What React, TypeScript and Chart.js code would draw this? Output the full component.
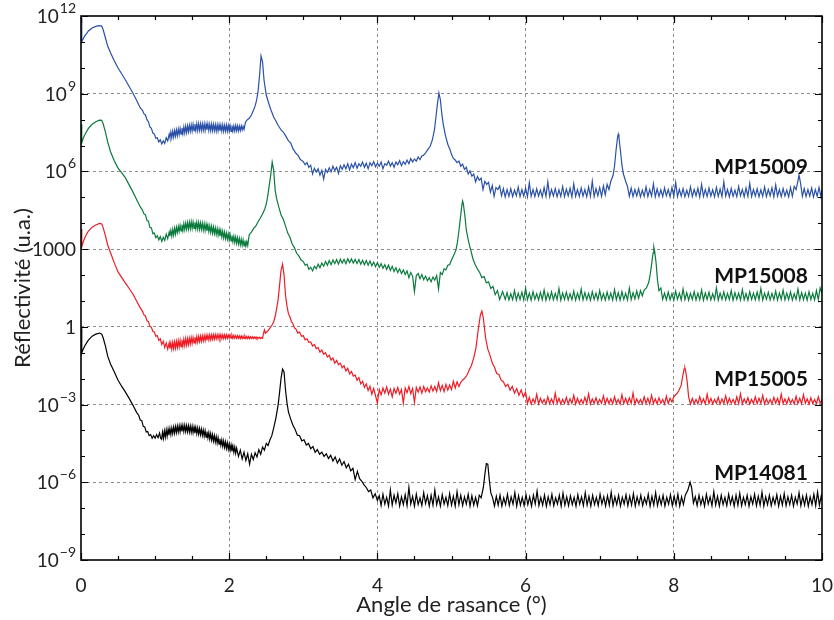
import React, { useEffect, useRef } from "react";
import { Chart, registerables } from "chart.js";

Chart.register(...registerables);

const FONT = "Lato, 'DejaVu Sans', sans-serif";

// Series names and colours
const seriesNames = ["MP15009", "MP15008", "MP15005", "MP14081"];
const seriesColors = ["#2a51a7", "#0a7a3d", "#ee1c25", "#000000"];

// Values: [angle (deg), log10(reflectivity)]
const mp15009: number[][] = [
  [0, 11.92], [0.01, 11.0], [0.03, 11.12], [0.05, 11.23], [0.08, 11.34], [0.1, 11.42], [0.15, 11.54], [0.2, 11.6], [0.25, 11.63], [0.28, 11.61], [0.3, 11.46], [0.33, 11.15], [0.36, 10.84], [0.4, 10.57], [0.45, 10.26], [0.5, 9.99], [0.55, 9.76], [0.6, 9.53], [0.65, 9.28], [0.7, 9.03], [0.75, 8.75], [0.8, 8.45],
  [0.83, 8.36], [0.85, 8.22], [0.87, 8.18], [0.89, 8.0], [0.91, 7.92], [0.93, 7.72], [0.95, 7.66], [0.97, 7.48], [0.99, 7.44], [1.01, 7.28], [1.03, 7.3], [1.05, 7.14], [1.07, 7.22], [1.09, 7.06], [1.11, 7.18], [1.13, 7.08], [1.15, 7.3], [1.17, 7.18], [1.19, 7.44], [1.2, 7.3],
  [1.2125, 7.52], [1.225, 7.3], [1.2375, 7.55], [1.25, 7.33], [1.2625, 7.58], [1.275, 7.36], [1.2875, 7.6], [1.3, 7.38], [1.3125, 7.63], [1.325, 7.42], [1.3375, 7.66], [1.35, 7.44], [1.3625, 7.68], [1.375, 7.46], [1.3875, 7.72], [1.4, 7.48], [1.4125, 7.74], [1.425, 7.5], [1.4375, 7.76], [1.45, 7.53], [1.4625, 7.78], [1.475, 7.55], [1.4875, 7.8], [1.5, 7.56], [1.5125, 7.82], [1.525, 7.57], [1.5375, 7.83], [1.55, 7.58], [1.5625, 7.84], [1.575, 7.58], [1.5875, 7.84], [1.6, 7.59], [1.6125, 7.84], [1.625, 7.58], [1.6375, 7.83], [1.65, 7.59], [1.6625, 7.84], [1.675, 7.58], [1.6875, 7.83], [1.7, 7.6], [1.7125, 7.84], [1.725, 7.58], [1.7375, 7.82], [1.75, 7.58], [1.7625, 7.83], [1.775, 7.57], [1.7875, 7.82], [1.8, 7.58], [1.8125, 7.81], [1.825, 7.56], [1.8375, 7.8], [1.85, 7.57], [1.8625, 7.8], [1.875, 7.56], [1.8875, 7.79], [1.9, 7.56], [1.9125, 7.8], [1.925, 7.55], [1.9375, 7.78], [1.95, 7.56], [1.9625, 7.79], [1.975, 7.55], [1.9875, 7.78], [2.0, 7.56], [2.0125, 7.77], [2.025, 7.55], [2.0375, 7.78], [2.05, 7.56], [2.0625, 7.76], [2.075, 7.56], [2.0875, 7.77], [2.1, 7.57], [2.1125, 7.76], [2.125, 7.57], [2.1375, 7.75], [2.15, 7.58], [2.1625, 7.76], [2.175, 7.6], [2.1875, 7.74], [2.2, 7.62],
  [2.22, 7.9], [2.24, 7.98], [2.27, 8.05], [2.3, 8.18], [2.33, 8.38], [2.35, 8.53], [2.37, 8.75], [2.39, 9.1], [2.41, 9.72], [2.43, 10.46], [2.45, 10.23], [2.47, 9.53], [2.5, 8.95], [2.53, 8.66], [2.56, 8.4], [2.6, 8.1], [2.63, 7.95], [2.66, 7.78], [2.7, 7.6], [2.73, 7.52], [2.76, 7.38], [2.8, 7.18], [2.83, 7.1], [2.86, 6.88], [2.9, 6.7], [2.93, 6.62], [2.96, 6.46],
  [3.0, 6.38], [3.025, 6.26], [3.05, 6.34], [3.075, 6.16], [3.1, 6.24], [3.125, 5.9], [3.15, 6.12], [3.175, 5.98], [3.2, 6.1], [3.225, 5.86], [3.25, 6.04], [3.275, 5.7], [3.3, 6.08], [3.325, 5.96], [3.35, 6.14], [3.375, 5.98], [3.4, 6.2], [3.425, 6.04], [3.45, 6.16], [3.475, 5.92], [3.5, 6.22], [3.525, 6.08], [3.55, 6.26], [3.575, 6.1], [3.6, 6.3], [3.625, 6.06], [3.65, 6.28], [3.675, 6.14], [3.7, 6.34], [3.725, 6.12], [3.75, 6.3], [3.775, 6.2], [3.8, 6.36], [3.825, 6.16], [3.85, 6.32], [3.875, 6.1], [3.9, 6.34], [3.925, 6.22], [3.95, 6.38], [3.975, 6.18], [4.0, 6.32], [4.025, 6.2], [4.05, 6.36], [4.075, 6.1], [4.1, 6.3], [4.125, 6.24], [4.15, 6.4], [4.175, 6.2], [4.2, 6.34], [4.225, 6.16], [4.25, 6.36], [4.275, 6.26], [4.3, 6.42], [4.325, 6.22], [4.35, 6.38], [4.375, 6.28], [4.4, 6.44], [4.425, 6.3], [4.45, 6.5], [4.475, 6.36], [4.5, 6.48], [4.525, 6.4], [4.55, 6.56], [4.575, 6.46], [4.6, 6.6],
  [4.62, 6.62], [4.65, 6.72], [4.68, 6.84], [4.71, 6.96], [4.74, 7.2], [4.77, 7.6], [4.79, 8.1], [4.81, 8.6], [4.83, 9.03], [4.85, 8.76], [4.87, 8.2], [4.89, 7.8], [4.92, 7.36], [4.95, 7.05], [4.98, 6.84],
  [5.0, 6.66], [5.025, 6.5], [5.05, 6.44], [5.075, 6.34], [5.1, 6.4], [5.125, 6.2], [5.15, 6.28], [5.175, 6.08], [5.2, 6.16], [5.225, 5.9], [5.25, 6.02], [5.275, 5.82], [5.3, 5.9], [5.325, 5.6], [5.35, 5.8], [5.375, 5.66], [5.4, 5.74], [5.425, 5.3], [5.45, 5.62], [5.475, 5.5], [5.5, 5.58], [5.525, 5.2], [5.55, 5.46], [5.575, 5.04], [5.6, 5.38], [5.625, 5.3], [5.65, 5.44], [5.675, 5.06], [5.7, 5.34], [5.725, 5.02], [5.75, 5.3],
  [5.775, 5.04], [5.8, 5.34], [5.825, 5.03], [5.85, 5.28], [5.875, 5.06], [5.9, 5.4], [5.925, 5.03], [5.95, 5.3], [5.975, 5.05], [6.0, 5.36], [6.025, 5.02], [6.05, 5.56], [6.075, 5.04], [6.1, 5.3], [6.125, 5.03], [6.15, 5.33], [6.175, 5.05], [6.2, 5.28], [6.225, 5.02], [6.25, 5.38], [6.275, 5.04], [6.3, 5.6], [6.325, 5.03], [6.35, 5.3], [6.375, 5.05], [6.4, 5.34], [6.425, 5.02], [6.45, 5.29], [6.475, 5.04], [6.5, 5.42], [6.525, 5.03], [6.55, 5.32], [6.575, 5.06], [6.6, 5.35], [6.625, 5.02], [6.65, 5.52], [6.675, 5.04], [6.7, 5.3], [6.725, 5.03], [6.75, 5.36], [6.775, 5.05], [6.8, 5.3], [6.825, 5.02], [6.85, 5.4], [6.875, 5.04], [6.9, 5.62], [6.925, 5.03], [6.95, 5.34], [6.975, 5.06], [7.0, 5.38], [7.025, 5.04], [7.05, 5.44], [7.075, 5.1], [7.1, 5.5], [7.125, 5.3], [7.15, 5.62],
  [7.18, 5.84], [7.2, 6.2], [7.22, 6.8], [7.24, 7.3], [7.25, 7.44], [7.26, 7.3], [7.28, 6.8], [7.3, 6.25], [7.32, 5.9], [7.35, 5.62], [7.375, 5.42],
  [7.4, 5.04], [7.425, 5.36], [7.45, 5.03], [7.475, 5.3], [7.5, 5.05], [7.525, 5.34], [7.55, 5.02], [7.575, 5.28], [7.6, 5.04], [7.625, 5.4], [7.65, 5.03], [7.675, 5.3], [7.7, 5.05], [7.725, 5.52], [7.75, 5.02], [7.775, 5.33], [7.8, 5.04], [7.825, 5.29], [7.85, 5.03], [7.875, 5.36], [7.9, 5.06], [7.925, 5.3], [7.95, 5.02], [7.975, 5.38], [8.0, 5.04], [8.025, 5.58], [8.05, 5.03], [8.075, 5.31], [8.1, 5.05], [8.125, 5.34], [8.15, 5.02], [8.175, 5.28], [8.2, 5.04], [8.225, 5.4], [8.25, 5.03], [8.275, 5.3], [8.3, 5.06], [8.325, 5.35], [8.35, 5.02], [8.375, 5.5], [8.4, 5.04], [8.425, 5.3], [8.45, 5.03], [8.475, 5.36], [8.5, 5.05], [8.525, 5.29], [8.55, 5.02], [8.575, 5.38], [8.6, 5.04], [8.625, 5.32], [8.65, 5.03], [8.675, 5.6], [8.7, 5.05], [8.725, 5.3], [8.75, 5.02], [8.775, 5.34], [8.8, 5.04], [8.825, 5.28], [8.85, 5.03], [8.875, 5.42], [8.9, 5.06], [8.925, 5.3], [8.95, 5.02], [8.975, 5.36], [9.0, 5.04], [9.025, 5.54], [9.05, 5.03], [9.075, 5.3], [9.1, 5.05], [9.125, 5.33], [9.15, 5.02], [9.175, 5.29], [9.2, 5.04], [9.225, 5.4], [9.25, 5.03], [9.275, 5.3], [9.3, 5.06], [9.325, 5.37], [9.35, 5.02], [9.375, 5.48], [9.4, 5.04], [9.425, 5.3], [9.45, 5.03], [9.475, 5.34], [9.5, 5.05], [9.525, 5.28], [9.55, 5.02], [9.575, 5.38], [9.6, 5.04], [9.625, 5.42], [9.65, 5.3], [9.67, 5.56], [9.69, 5.86], [9.71, 5.56], [9.735, 5.04], [9.76, 5.34], [9.785, 5.03], [9.81, 5.3], [9.835, 5.05], [9.86, 5.36], [9.885, 5.02], [9.91, 5.3], [9.935, 5.04], [9.96, 5.38], [9.985, 5.03], [10, 5.3],
];

const mp15008: number[][] = [
  [0, 7.82], [0.01, 7.1], [0.03, 7.28], [0.05, 7.41], [0.08, 7.56], [0.1, 7.66], [0.15, 7.82], [0.2, 7.92], [0.25, 7.98], [0.28, 7.97], [0.3, 7.83], [0.33, 7.52], [0.36, 7.14], [0.4, 6.75], [0.45, 6.4], [0.5, 6.13], [0.55, 5.94], [0.6, 5.75], [0.65, 5.48], [0.7, 5.21], [0.75, 4.92], [0.8, 4.63],
  [0.83, 4.5], [0.85, 4.36], [0.87, 4.32], [0.89, 4.1], [0.91, 4.08], [0.93, 3.84], [0.95, 3.82], [0.97, 3.6], [0.99, 3.62], [1.01, 3.44], [1.03, 3.52], [1.05, 3.36], [1.07, 3.48], [1.09, 3.3], [1.11, 3.46], [1.13, 3.34], [1.15, 3.58], [1.17, 3.4], [1.19, 3.66], [1.2, 3.5],
  [1.2125, 3.72], [1.225, 3.5], [1.2375, 3.76], [1.25, 3.54], [1.2625, 3.8], [1.275, 3.58], [1.2875, 3.84], [1.3, 3.64], [1.3125, 3.88], [1.325, 3.68], [1.3375, 3.92], [1.35, 3.7], [1.3625, 3.95], [1.375, 3.72], [1.3875, 3.98], [1.4, 3.75], [1.4125, 4.0], [1.425, 3.77], [1.4375, 4.02], [1.45, 3.78], [1.4625, 4.04], [1.475, 3.79], [1.4875, 4.05], [1.5, 3.8], [1.5125, 4.05], [1.525, 3.8], [1.5375, 4.04], [1.55, 3.79], [1.5625, 4.04], [1.575, 3.78], [1.5875, 4.03], [1.6, 3.77], [1.6125, 4.01], [1.625, 3.76], [1.6375, 4.0], [1.65, 3.74], [1.6625, 3.98], [1.675, 3.72], [1.6875, 3.96], [1.7, 3.7], [1.7125, 3.93], [1.725, 3.68], [1.7375, 3.9], [1.75, 3.65], [1.7625, 3.88], [1.775, 3.62], [1.7875, 3.85], [1.8, 3.6], [1.8125, 3.82], [1.825, 3.57], [1.8375, 3.79], [1.85, 3.54], [1.8625, 3.76], [1.875, 3.5], [1.8875, 3.72], [1.9, 3.47], [1.9125, 3.69], [1.925, 3.44], [1.9375, 3.66], [1.95, 3.41], [1.9625, 3.62], [1.975, 3.38], [1.9875, 3.59], [2.0, 3.35], [2.0125, 3.56], [2.025, 3.32], [2.0375, 3.53], [2.05, 3.29], [2.0625, 3.5], [2.075, 3.26], [2.0875, 3.47], [2.1, 3.23], [2.1125, 3.44], [2.125, 3.2], [2.1375, 3.41], [2.15, 3.17], [2.1625, 3.38], [2.175, 3.15], [2.1875, 3.36], [2.2, 3.13], [2.2125, 3.33], [2.225, 3.12], [2.2375, 3.3], [2.25, 3.14],
  [2.27, 3.56], [2.3, 3.66], [2.33, 3.8], [2.36, 3.9], [2.39, 4.06], [2.42, 4.2], [2.45, 4.36], [2.48, 4.55], [2.5, 4.74], [2.52, 5.05], [2.54, 5.45], [2.56, 5.86], [2.58, 6.36], [2.6, 6.05], [2.62, 5.28], [2.64, 4.95], [2.67, 4.62], [2.7, 4.32], [2.73, 4.15], [2.76, 3.9], [2.79, 3.62], [2.82, 3.46], [2.85, 3.2], [2.88, 3.06], [2.91, 2.84], [2.94, 2.74], [2.97, 2.58],
  [3.0, 2.52], [3.025, 2.38], [3.05, 2.42], [3.075, 2.22], [3.1, 2.3], [3.125, 2.16], [3.15, 2.34], [3.175, 2.24], [3.2, 2.42], [3.225, 2.28], [3.25, 2.46], [3.275, 2.34], [3.3, 2.52], [3.325, 2.38], [3.35, 2.56], [3.375, 2.4], [3.4, 2.58], [3.425, 2.44], [3.45, 2.6], [3.475, 2.42], [3.5, 2.62], [3.525, 2.46], [3.55, 2.6], [3.575, 2.44], [3.6, 2.63], [3.625, 2.48], [3.65, 2.62], [3.675, 2.46], [3.7, 2.6], [3.725, 2.44], [3.75, 2.6], [3.775, 2.42], [3.8, 2.57], [3.825, 2.4], [3.85, 2.56], [3.875, 2.38], [3.9, 2.54], [3.925, 2.36], [3.95, 2.5], [3.975, 2.32], [4.0, 2.48], [4.025, 2.3], [4.05, 2.44], [4.075, 2.26], [4.1, 2.4], [4.125, 2.22], [4.15, 2.38], [4.175, 2.18], [4.2, 2.34], [4.225, 2.14], [4.25, 2.28], [4.275, 2.1], [4.3, 2.24], [4.325, 2.06], [4.35, 2.2], [4.375, 2.02], [4.4, 2.16], [4.425, 1.9], [4.45, 2.1], [4.475, 1.96], [4.5, 1.36], [4.525, 1.98], [4.55, 2.06], [4.575, 1.86], [4.6, 2.02], [4.625, 1.82], [4.65, 1.96], [4.675, 1.78], [4.7, 1.9], [4.725, 1.74], [4.75, 1.92], [4.775, 1.8], [4.8, 1.98], [4.825, 1.46], [4.85, 2.1], [4.875, 2.02], [4.9, 2.24], [4.925, 2.2], [4.95, 2.38], [4.975, 2.4], [5.0, 2.58],
  [5.03, 2.76], [5.06, 2.96], [5.08, 3.27], [5.1, 3.7], [5.12, 4.2], [5.14, 4.7], [5.15, 4.86], [5.16, 4.75], [5.18, 4.3], [5.2, 3.74], [5.23, 3.3], [5.26, 2.96], [5.29, 2.62], [5.32, 2.4], [5.35, 2.24], [5.38, 2.1], [5.41, 1.9], [5.44, 1.94], [5.47, 1.7], [5.5, 1.74], [5.53, 1.48], [5.56, 1.56], [5.59, 1.24], [5.62, 1.4], [5.65, 1.06], [5.69, 1.36],
  [5.725, 1.06], [5.75, 1.32], [5.775, 1.04], [5.8, 1.28], [5.825, 1.05], [5.85, 1.4], [5.875, 1.03], [5.9, 1.3], [5.925, 1.06], [5.95, 1.34], [5.975, 1.04], [6.0, 1.5], [6.025, 1.05], [6.05, 1.3], [6.075, 1.03], [6.1, 1.36], [6.125, 1.06], [6.15, 1.28], [6.175, 1.04], [6.2, 1.33], [6.225, 1.05], [6.25, 1.42], [6.275, 1.03], [6.3, 1.3], [6.325, 1.06], [6.35, 1.35], [6.375, 1.04], [6.4, 1.29], [6.425, 1.05], [6.45, 1.48], [6.475, 1.03], [6.5, 1.31], [6.525, 1.06], [6.55, 1.34], [6.575, 1.04], [6.6, 1.28], [6.625, 1.05], [6.65, 1.38], [6.675, 1.03], [6.7, 1.3], [6.725, 1.06], [6.75, 1.46], [6.775, 1.04], [6.8, 1.32], [6.825, 1.05], [6.85, 1.29], [6.875, 1.03], [6.9, 1.36], [6.925, 1.06], [6.95, 1.3], [6.975, 1.04], [7.0, 1.4], [7.025, 1.05], [7.05, 1.28], [7.075, 1.03], [7.1, 1.34], [7.125, 1.06], [7.15, 1.3], [7.175, 1.04], [7.2, 1.44], [7.225, 1.05], [7.25, 1.32], [7.275, 1.03], [7.3, 1.36], [7.325, 1.06], [7.35, 1.29], [7.375, 1.04], [7.4, 1.5], [7.425, 1.05], [7.45, 1.32], [7.475, 1.08], [7.5, 1.38], [7.525, 1.1], [7.55, 1.4], [7.575, 1.2], [7.6, 1.42],
  [7.63, 1.5], [7.66, 1.7], [7.68, 2.0], [7.7, 2.4], [7.72, 2.85], [7.73, 3.08], [7.74, 2.95], [7.76, 2.5], [7.78, 1.8], [7.8, 1.4], [7.825, 1.5],
  [7.85, 1.06], [7.875, 1.3], [7.9, 1.04], [7.925, 1.34], [7.95, 1.05], [7.975, 1.28], [8.0, 1.03], [8.025, 1.38], [8.05, 1.06], [8.075, 1.3], [8.1, 1.04], [8.125, 1.46], [8.15, 1.05], [8.175, 1.32], [8.2, 1.03], [8.225, 1.29], [8.25, 1.06], [8.275, 1.36], [8.3, 1.04], [8.325, 1.3], [8.35, 1.05], [8.375, 1.42], [8.4, 1.03], [8.425, 1.31], [8.45, 1.06], [8.475, 1.34], [8.5, 1.04], [8.525, 1.28], [8.55, 1.05], [8.575, 1.5], [8.6, 1.03], [8.625, 1.3], [8.65, 1.06], [8.675, 1.35], [8.7, 1.04], [8.725, 1.29], [8.75, 1.05], [8.775, 1.4], [8.8, 1.03], [8.825, 1.32], [8.85, 1.06], [8.875, 1.3], [8.9, 1.04], [8.925, 1.44], [8.95, 1.05], [8.975, 1.28], [9.0, 1.03], [9.025, 1.36], [9.05, 1.06], [9.075, 1.3], [9.1, 1.04], [9.125, 1.34], [9.15, 1.05], [9.175, 1.48], [9.2, 1.03], [9.225, 1.3], [9.25, 1.06], [9.275, 1.33], [9.3, 1.04], [9.325, 1.29], [9.35, 1.05], [9.375, 1.38], [9.4, 1.03], [9.425, 1.31], [9.45, 1.06], [9.475, 1.42], [9.5, 1.04], [9.525, 1.3], [9.55, 1.05], [9.575, 1.35], [9.6, 1.03], [9.625, 1.28], [9.65, 1.06], [9.675, 1.46], [9.7, 1.04], [9.725, 1.32], [9.75, 1.05], [9.775, 1.3], [9.8, 1.03], [9.825, 1.36], [9.85, 1.06], [9.875, 1.29], [9.9, 1.04], [9.925, 1.4], [9.95, 1.05], [9.975, 1.5], [10, 1.3],
];

const mp15005: number[][] = [
  [0, 3.78], [0.01, 3.08], [0.03, 3.28], [0.05, 3.43], [0.08, 3.6], [0.1, 3.7], [0.15, 3.85], [0.2, 3.93], [0.25, 3.99], [0.28, 3.97], [0.3, 3.82], [0.33, 3.51], [0.36, 3.16], [0.4, 2.85], [0.45, 2.46], [0.5, 2.12], [0.55, 1.9], [0.6, 1.69], [0.65, 1.48], [0.7, 1.27], [0.75, 1.0], [0.8, 0.73],
  [0.83, 0.6], [0.85, 0.46], [0.87, 0.42], [0.89, 0.24], [0.91, 0.2], [0.93, 0.02], [0.95, -0.02], [0.97, -0.18], [0.99, -0.2], [1.01, -0.36], [1.03, -0.34], [1.05, -0.52], [1.07, -0.46], [1.09, -0.68], [1.11, -0.56], [1.13, -0.8], [1.15, -0.62], [1.17, -0.86], [1.19, -0.62], [1.2, -0.84],
  [1.2125, -0.62], [1.225, -0.86], [1.2375, -0.6], [1.25, -0.84], [1.2625, -0.58], [1.275, -0.82], [1.2875, -0.56], [1.3, -0.8], [1.3125, -0.54], [1.325, -0.78], [1.3375, -0.52], [1.35, -0.76], [1.3625, -0.5], [1.375, -0.74], [1.3875, -0.48], [1.4, -0.72], [1.4125, -0.46], [1.425, -0.7], [1.4375, -0.45], [1.45, -0.68], [1.4625, -0.44], [1.475, -0.66], [1.4875, -0.42], [1.5, -0.64], [1.5125, -0.41], [1.525, -0.62], [1.5375, -0.4], [1.55, -0.6], [1.5625, -0.38], [1.575, -0.59], [1.5875, -0.37], [1.6, -0.57], [1.6125, -0.36], [1.625, -0.56], [1.6375, -0.35], [1.65, -0.54], [1.6625, -0.34], [1.675, -0.53], [1.6875, -0.33], [1.7, -0.52], [1.7125, -0.32], [1.725, -0.5], [1.7375, -0.31], [1.75, -0.49], [1.7625, -0.31], [1.775, -0.48], [1.7875, -0.3], [1.8, -0.47], [1.8125, -0.3], [1.825, -0.46], [1.8375, -0.3], [1.85, -0.46], [1.8625, -0.3], [1.875, -0.45], [1.8875, -0.3], [1.9, -0.45], [1.9125, -0.31], [1.925, -0.45], [1.9375, -0.31], [1.95, -0.45], [1.9625, -0.31], [1.975, -0.44], [1.9875, -0.32], [2.0, -0.44], [2.0125, -0.32], [2.025, -0.44], [2.0375, -0.33], [2.05, -0.44], [2.0625, -0.33], [2.075, -0.44], [2.0875, -0.34], [2.1, -0.44], [2.1125, -0.34], [2.125, -0.44], [2.1375, -0.35], [2.15, -0.45], [2.1625, -0.35], [2.175, -0.45], [2.1875, -0.36], [2.2, -0.45], [2.2125, -0.36], [2.225, -0.45], [2.2375, -0.37], [2.25, -0.45], [2.2625, -0.37], [2.275, -0.45], [2.2875, -0.38], [2.3, -0.45], [2.3125, -0.38], [2.325, -0.45], [2.3375, -0.39], [2.35, -0.45], [2.3625, -0.39], [2.375, -0.45], [2.3875, -0.4], [2.4, -0.45], [2.4125, -0.4], [2.425, -0.45], [2.4375, -0.41], [2.45, -0.44],
  [2.46, -0.3], [2.475, -0.12], [2.49, -0.24], [2.52, -0.16], [2.55, -0.05], [2.58, 0.08], [2.6, 0.19], [2.62, 0.4], [2.64, 0.7], [2.66, 1.04], [2.68, 1.62], [2.7, 2.19], [2.72, 2.42], [2.74, 2.0], [2.76, 1.23], [2.78, 0.8], [2.8, 0.5], [2.82, 0.38], [2.84, 0.2], [2.86, 0.12], [2.88, -0.04],
  [2.9, -0.08], [2.925, -0.24], [2.95, -0.2], [2.975, -0.36], [3.0, -0.34], [3.025, -0.5], [3.05, -0.46], [3.075, -0.6], [3.1, -0.58], [3.125, -0.74], [3.15, -0.68], [3.175, -0.84], [3.2, -0.8], [3.225, -0.98], [3.25, -0.9], [3.275, -1.06], [3.3, -1.0], [3.325, -1.16], [3.35, -1.1], [3.375, -1.28], [3.4, -1.2], [3.425, -1.4], [3.45, -1.3], [3.475, -1.46], [3.5, -1.4], [3.525, -1.58], [3.55, -1.5], [3.575, -1.7], [3.6, -1.6], [3.625, -1.82], [3.65, -1.72], [3.675, -1.9], [3.7, -1.86], [3.725, -2.06], [3.75, -1.96], [3.775, -2.2], [3.8, -2.1], [3.825, -2.34], [3.85, -2.2], [3.875, -2.46], [3.9, -2.3], [3.925, -2.6], [3.95, -2.38], [3.975, -2.66], [4.0, -2.94], [4.025, -2.42], [4.05, -2.62], [4.075, -2.36], [4.1, -2.56], [4.125, -2.32], [4.15, -2.6], [4.175, -2.4], [4.2, -2.7], [4.225, -2.38], [4.25, -2.56], [4.275, -2.34], [4.3, -2.6], [4.325, -2.42], [4.35, -2.94], [4.375, -2.36], [4.4, -2.54], [4.425, -2.3], [4.45, -2.58], [4.475, -2.38], [4.5, -2.92], [4.525, -2.34], [4.55, -2.52], [4.575, -2.32], [4.6, -2.56], [4.625, -2.3], [4.65, -2.5], [4.675, -2.36], [4.7, -2.52], [4.725, -2.28], [4.75, -2.48], [4.775, -2.3], [4.8, -2.5], [4.825, -2.16], [4.85, -2.46], [4.875, -2.26], [4.9, -2.5], [4.925, -2.22], [4.95, -2.44], [4.975, -2.24], [5.0, -2.42], [5.025, -2.1], [5.05, -2.36], [5.075, -2.12], [5.1, -2.3], [5.125, -2.14],
  [5.15, -2.06], [5.18, -1.98], [5.21, -1.86], [5.24, -1.66], [5.27, -1.48], [5.3, -1.2], [5.33, -0.82], [5.36, -0.12], [5.39, 0.46], [5.41, 0.61], [5.43, 0.34], [5.46, -0.43], [5.49, -0.86], [5.52, -1.1], [5.55, -1.4], [5.58, -1.56], [5.61, -1.8], [5.64, -1.84], [5.67, -2.06], [5.7, -2.12], [5.73, -2.3], [5.76, -2.22], [5.79, -2.44], [5.82, -2.3], [5.85, -2.56], [5.88, -2.38], [5.91, -2.64], [5.94, -2.44], [5.97, -2.7], [6.0, -2.52],
  [6.025, -2.96], [6.05, -2.72], [6.075, -2.98], [6.1, -2.78], [6.125, -2.95], [6.15, -2.6], [6.175, -2.97], [6.2, -2.76], [6.225, -2.94], [6.25, -2.8], [6.275, -2.98], [6.3, -2.7], [6.325, -2.96], [6.35, -2.78], [6.375, -2.97], [6.4, -2.56], [6.425, -2.95], [6.45, -2.76], [6.475, -2.98], [6.5, -2.8], [6.525, -2.96], [6.55, -2.72], [6.575, -2.97], [6.6, -2.78], [6.625, -2.95], [6.65, -2.64], [6.675, -2.98], [6.7, -2.76], [6.725, -2.96], [6.75, -2.8], [6.775, -2.97], [6.8, -2.72], [6.825, -2.95], [6.85, -2.58], [6.875, -2.98], [6.9, -2.78], [6.925, -2.96], [6.95, -2.74], [6.975, -2.97], [7.0, -2.8], [7.025, -2.95], [7.05, -2.66], [7.075, -2.98], [7.1, -2.76], [7.125, -2.96], [7.15, -2.78], [7.175, -2.97], [7.2, -2.7], [7.225, -2.95], [7.25, -2.8], [7.275, -2.98], [7.3, -2.62], [7.325, -2.96], [7.35, -2.76], [7.375, -2.97], [7.4, -2.74], [7.425, -2.95], [7.45, -2.55], [7.475, -2.98], [7.5, -2.78], [7.525, -2.96], [7.55, -2.8], [7.575, -2.97], [7.6, -2.7], [7.625, -2.95], [7.65, -2.76], [7.675, -2.98], [7.7, -2.64], [7.725, -2.96], [7.75, -2.78], [7.775, -2.97], [7.8, -2.74], [7.825, -2.95], [7.85, -2.8], [7.875, -2.98], [7.9, -2.68], [7.925, -2.96], [7.95, -2.76], [7.975, -2.9], [8.0, -2.7], [8.025, -2.62],
  [8.05, -2.55], [8.07, -2.45], [8.1, -2.25], [8.12, -1.9], [8.14, -1.62], [8.15, -1.59], [8.16, -1.7], [8.18, -2.1], [8.2, -2.7],
  [8.225, -2.98], [8.25, -2.76], [8.275, -2.96], [8.3, -2.8], [8.325, -2.97], [8.35, -2.7], [8.375, -2.95], [8.4, -2.78], [8.425, -2.98], [8.45, -2.6], [8.475, -2.96], [8.5, -2.76], [8.525, -2.97], [8.55, -2.8], [8.575, -2.95], [8.6, -2.72], [8.625, -2.98], [8.65, -2.78], [8.675, -2.96], [8.7, -2.66], [8.725, -2.97], [8.75, -2.76], [8.775, -2.95], [8.8, -2.8], [8.825, -2.98], [8.85, -2.7], [8.875, -2.96], [8.9, -2.58], [8.925, -2.97], [8.95, -2.78], [8.975, -2.95], [9.0, -2.74], [9.025, -2.98], [9.05, -2.8], [9.075, -2.96], [9.1, -2.7], [9.125, -2.97], [9.15, -2.76], [9.175, -2.95], [9.2, -2.64], [9.225, -2.98], [9.25, -2.78], [9.275, -2.96], [9.3, -2.8], [9.325, -2.97], [9.35, -2.72], [9.375, -2.95], [9.4, -2.76], [9.425, -2.98], [9.45, -2.6], [9.475, -2.96], [9.5, -2.78], [9.525, -2.97], [9.55, -2.74], [9.575, -2.95], [9.6, -2.8], [9.625, -2.98], [9.65, -2.68], [9.675, -2.96], [9.7, -2.76], [9.725, -2.97], [9.75, -2.62], [9.775, -2.95], [9.8, -2.78], [9.825, -2.98], [9.85, -2.74], [9.875, -2.96], [9.9, -2.8], [9.925, -2.97], [9.95, -2.7], [9.975, -2.95], [10, -2.8],
];

const mp14081: number[][] = [
  [0, -0.05], [0.01, -1.01], [0.03, -0.86], [0.05, -0.74], [0.08, -0.6], [0.1, -0.51], [0.15, -0.36], [0.2, -0.28], [0.25, -0.24], [0.28, -0.28], [0.3, -0.43], [0.33, -0.74], [0.36, -1.13], [0.4, -1.44], [0.45, -1.74], [0.5, -2.06], [0.55, -2.3], [0.6, -2.52], [0.65, -2.76], [0.7, -3.02], [0.75, -3.3], [0.78, -3.42], [0.8, -3.6], [0.82, -3.62], [0.84, -3.84], [0.86, -3.86], [0.88, -4.06], [0.9, -4.04], [0.92, -4.2], [0.94, -4.16], [0.96, -4.3], [0.98, -4.2], [1.0, -4.3], [1.02, -4.16], [1.04, -4.28], [1.06, -4.1], [1.075, -4.3],
  [1.0875, -4.34], [1.1, -4.06], [1.1125, -4.3], [1.125, -4.02], [1.1375, -4.26], [1.15, -3.98], [1.1625, -4.22], [1.175, -3.95], [1.1875, -4.18], [1.2, -3.92], [1.2125, -4.15], [1.225, -3.9], [1.2375, -4.12], [1.25, -3.87], [1.2625, -4.1], [1.275, -3.85], [1.2875, -4.08], [1.3, -3.83], [1.3125, -4.06], [1.325, -3.82], [1.3375, -4.05], [1.35, -3.81], [1.3625, -4.04], [1.375, -3.8], [1.3875, -4.04], [1.4, -3.8], [1.4125, -4.04], [1.425, -3.81], [1.4375, -4.05], [1.45, -3.82], [1.4625, -4.06], [1.475, -3.83], [1.4875, -4.07], [1.5, -3.84], [1.5125, -4.08], [1.525, -3.86], [1.5375, -4.1], [1.55, -3.88], [1.5625, -4.12], [1.575, -3.9], [1.5875, -4.14], [1.6, -3.92], [1.6125, -4.16], [1.625, -3.95], [1.6375, -4.19], [1.65, -3.98], [1.6625, -4.22], [1.675, -4.01], [1.6875, -4.26], [1.7, -4.04], [1.7125, -4.29], [1.725, -4.08], [1.7375, -4.33], [1.75, -4.12], [1.7625, -4.37], [1.775, -4.16], [1.7875, -4.41], [1.8, -4.2], [1.8125, -4.45], [1.825, -4.24], [1.8375, -4.49], [1.85, -4.28], [1.8625, -4.53], [1.875, -4.32], [1.8875, -4.57], [1.9, -4.36], [1.9125, -4.61], [1.925, -4.4], [1.9375, -4.65], [1.95, -4.44], [1.9625, -4.69], [1.975, -4.48], [1.9875, -4.73], [2.0, -4.52], [2.0125, -4.77], [2.025, -4.56], [2.0375, -4.81], [2.05, -4.6], [2.0625, -4.84], [2.075, -4.64], [2.0875, -4.88], [2.1, -4.68],
  [2.125, -5.0], [2.15, -4.76], [2.175, -5.1], [2.2, -4.84], [2.225, -5.16], [2.25, -4.9], [2.275, -5.3], [2.3, -4.92], [2.325, -5.12], [2.35, -4.86], [2.375, -5.02], [2.4, -4.74], [2.425, -4.92], [2.45, -4.64], [2.475, -4.76], [2.5, -4.5], [2.525, -4.58], [2.55, -4.36], [2.575, -4.2],
  [2.6, -3.91], [2.63, -3.52], [2.66, -3.02], [2.68, -2.52], [2.7, -1.98], [2.72, -1.63], [2.74, -1.74], [2.76, -2.44], [2.78, -2.94], [2.8, -3.29], [2.83, -3.56], [2.86, -3.8], [2.89, -3.96], [2.92, -4.18], [2.95, -4.2], [2.98, -4.4], [3.01, -4.36], [3.04, -4.56], [3.07, -4.5], [3.1, -4.7], [3.13, -4.62], [3.16, -4.84], [3.19, -4.74], [3.22, -4.92], [3.25, -4.84], [3.28, -5.0], [3.31, -4.9], [3.34, -5.08], [3.37, -4.96], [3.4, -5.18], [3.43, -5.02], [3.46, -5.26], [3.49, -5.1], [3.52, -5.34], [3.55, -5.2], [3.58, -5.44], [3.61, -5.3], [3.64, -5.56], [3.67, -5.46], [3.7, -5.9], [3.73, -5.58], [3.76, -5.86], [3.79, -5.96], [3.82, -6.1], [3.85, -6.2], [3.88, -6.36], [3.91, -6.3], [3.94, -6.6], [3.97, -6.44], [4.0, -6.7],
  [4.025, -6.52], [4.05, -6.9], [4.075, -6.46], [4.1, -6.84], [4.125, -6.58], [4.15, -6.92], [4.175, -6.3], [4.2, -6.88], [4.225, -6.5], [4.25, -6.8], [4.275, -6.44], [4.3, -6.92], [4.325, -6.56], [4.35, -6.86], [4.375, -6.48], [4.4, -6.9], [4.425, -6.2], [4.45, -6.84], [4.475, -6.54], [4.5, -6.92], [4.525, -6.46], [4.55, -6.86], [4.575, -6.6], [4.6, -6.9], [4.625, -6.4], [4.65, -6.82], [4.675, -6.52], [4.7, -6.92], [4.725, -6.5], [4.75, -6.88], [4.775, -6.3], [4.8, -6.86], [4.825, -6.56], [4.85, -6.92], [4.875, -6.48], [4.9, -6.84], [4.925, -6.58], [4.95, -6.9], [4.975, -6.44], [5.0, -6.88], [5.025, -6.54], [5.05, -6.92], [5.075, -6.36], [5.1, -6.86], [5.125, -6.5], [5.15, -6.9], [5.175, -6.56], [5.2, -6.84], [5.225, -6.46], [5.25, -6.92], [5.275, -6.52], [5.3, -6.88], [5.325, -6.58], [5.35, -6.9], [5.375, -6.5], [5.4, -6.6],
  [5.43, -6.2], [5.45, -5.7], [5.47, -5.28], [5.49, -5.3], [5.51, -5.9], [5.53, -6.4],
  [5.555, -6.6], [5.58, -6.92], [5.605, -6.54], [5.63, -6.88], [5.655, -6.5], [5.68, -6.92], [5.705, -6.6], [5.73, -6.86], [5.755, -6.46], [5.78, -6.9], [5.805, -6.56], [5.83, -6.84], [5.855, -6.4], [5.88, -6.92], [5.905, -6.52], [5.93, -6.88], [5.955, -6.58], [5.98, -6.9], [6.005, -6.48], [6.03, -6.86], [6.055, -6.56], [6.08, -6.92], [6.105, -6.5], [6.13, -6.84], [6.155, -6.34], [6.18, -6.9], [6.205, -6.58], [6.23, -6.88], [6.255, -6.5], [6.28, -6.92], [6.305, -6.56], [6.33, -6.86], [6.355, -6.46], [6.38, -6.9], [6.405, -6.6], [6.43, -6.84], [6.455, -6.5], [6.48, -6.92], [6.505, -6.42], [6.53, -6.88], [6.555, -6.56], [6.58, -6.9], [6.605, -6.52], [6.63, -6.86], [6.655, -6.58], [6.68, -6.92], [6.705, -6.48], [6.73, -6.84], [6.755, -6.56], [6.78, -6.9], [6.805, -6.4], [6.83, -6.88], [6.855, -6.54], [6.88, -6.92], [6.905, -6.5], [6.93, -6.86], [6.955, -6.58], [6.98, -6.9], [7.005, -6.46], [7.03, -6.84], [7.055, -6.56], [7.08, -6.92], [7.105, -6.52], [7.13, -6.88], [7.155, -6.38], [7.18, -6.9], [7.205, -6.56], [7.23, -6.86], [7.255, -6.5], [7.28, -6.92], [7.305, -6.58], [7.33, -6.84], [7.355, -6.48], [7.38, -6.9], [7.405, -6.54], [7.43, -6.88], [7.455, -6.44], [7.48, -6.92], [7.505, -6.56], [7.53, -6.86], [7.555, -6.5], [7.58, -6.9], [7.605, -6.6], [7.63, -6.84], [7.655, -6.46], [7.68, -6.92], [7.705, -6.54], [7.73, -6.88], [7.755, -6.4], [7.78, -6.9], [7.805, -6.56], [7.83, -6.86], [7.855, -6.5], [7.88, -6.92], [7.905, -6.58], [7.93, -6.84], [7.955, -6.48], [7.98, -6.9], [8.005, -6.54], [8.03, -6.88], [8.055, -6.46], [8.08, -6.92], [8.105, -6.56], [8.13, -6.86], [8.155, -6.5],
  [8.19, -6.3], [8.22, -6.0], [8.24, -6.2], [8.265, -6.8],
  [8.29, -6.56], [8.315, -6.9], [8.34, -6.5], [8.365, -6.86], [8.39, -6.58], [8.415, -6.92], [8.44, -6.46], [8.465, -6.84], [8.49, -6.56], [8.515, -6.9], [8.54, -6.36], [8.565, -6.88], [8.59, -6.54], [8.615, -6.92], [8.64, -6.5], [8.665, -6.86], [8.69, -6.58], [8.715, -6.9], [8.74, -6.46], [8.765, -6.84], [8.79, -6.56], [8.815, -6.92], [8.84, -6.5], [8.865, -6.88], [8.89, -6.42], [8.915, -6.9], [8.94, -6.58], [8.965, -6.86], [8.99, -6.5], [9.015, -6.92], [9.04, -6.56], [9.065, -6.84], [9.09, -6.46], [9.115, -6.9], [9.14, -6.54], [9.165, -6.88], [9.19, -6.38], [9.215, -6.92], [9.24, -6.56], [9.265, -6.86], [9.29, -6.5], [9.315, -6.9], [9.34, -6.58], [9.365, -6.84], [9.39, -6.48], [9.415, -6.92], [9.44, -6.54], [9.465, -6.88], [9.49, -6.44], [9.515, -6.9], [9.54, -6.56], [9.565, -6.86], [9.59, -6.5], [9.615, -6.92], [9.64, -6.58], [9.665, -6.84], [9.69, -6.4], [9.715, -6.9], [9.74, -6.54], [9.765, -6.88], [9.79, -6.5], [9.815, -6.92], [9.84, -6.56], [9.865, -6.86], [9.89, -6.46], [9.915, -6.9], [9.94, -6.38], [9.965, -6.88], [9.99, -6.52], [10, -6.7],
];

const allSeries = [mp15009, mp15008, mp15005, mp14081];

// Series label anchors: angle and log10 value of the right end of the text baseline
const labelAngles = [9.81, 9.81, 9.81, 9.81];
const labelLogValues = [5.9, 1.69, -2.28, -5.91];

// Axes
const xTickValues = [0, 2, 4, 6, 8, 10];
const xMinorTickValues = [0.5, 1, 1.5, 2.5, 3, 3.5, 4.5, 5, 5.5, 6.5, 7, 7.5, 8.5, 9, 9.5];
const yDecadeExponents = [-9, -8, -7, -6, -5, -4, -3, -2, -1, 0, 1, 2, 3, 4, 5, 6, 7, 8, 9, 10, 11, 12];
const yMajorExponents = [-9, -6, -3, 0, 3, 6, 9, 12];
const yMajorLabelBase = ["10", "10", "10", "1", "1000", "10", "10", "10"];
const yMajorLabelSup = ["−9", "−6", "−3", "", "", "6", "9", "12"];

const xTitle = "Angle de rasance (°)";
const yTitle = "Réflectivité (u.a.)";

const decorPlugin = {
  id: "decor",
  afterDatasetsDraw(chart: any) {
    const { ctx, chartArea, scales } = chart;
    const { left, right, top, bottom } = chartArea;
    const xs = scales.x;
    const ys = scales.y;
    ctx.save();
    ctx.strokeStyle = "#000";
    ctx.lineWidth = 1.2;
    const drawX = (v: number, len: number) => {
      const px = Math.round(xs.getPixelForValue(v)) + 0.5;
      ctx.beginPath();
      ctx.moveTo(px, bottom);
      ctx.lineTo(px, bottom - len);
      ctx.moveTo(px, top);
      ctx.lineTo(px, top + len);
      ctx.stroke();
    };
    xTickValues.forEach((v) => drawX(v, 7));
    xMinorTickValues.forEach((v) => drawX(v, 4));
    yDecadeExponents.forEach((e) => {
      const py = Math.round(ys.getPixelForValue(Math.pow(10, e))) + 0.5;
      const len = yMajorExponents.includes(e) ? 7 : 4;
      ctx.beginPath();
      ctx.moveTo(left, py);
      ctx.lineTo(left + len, py);
      ctx.moveTo(right, py);
      ctx.lineTo(right - len, py);
      ctx.stroke();
    });
    ctx.lineWidth = 1.6;
    ctx.strokeRect(left, top, right - left, bottom - top);

    // y tick labels with superscripts
    ctx.fillStyle = "#222";
    ctx.textBaseline = "alphabetic";
    ctx.textAlign = "right";
    yMajorExponents.forEach((e, i) => {
      const py = ys.getPixelForValue(Math.pow(10, e));
      const xr = left - 5;
      const sup = yMajorLabelSup[i];
      let supW = 0;
      if (sup) {
        ctx.font = `14px ${FONT}`;
        supW = ctx.measureText(sup).width;
        ctx.fillText(sup, xr, py - 3);
      }
      ctx.font = `19px ${FONT}`;
      ctx.fillText(yMajorLabelBase[i], xr - supW - (sup ? 1 : 0), py + 7);
    });

    // series labels
    ctx.font = `bold 21px ${FONT}`;
    ctx.fillStyle = "#111";
    ctx.textAlign = "right";
    seriesNames.forEach((name, i) => {
      const px = xs.getPixelForValue(labelAngles[i]);
      const py = ys.getPixelForValue(Math.pow(10, labelLogValues[i]));
      ctx.fillText(name, px, py);
    });
    ctx.restore();
  },
};

export default function App() {
  const ref = useRef<HTMLCanvasElement>(null);
  useEffect(() => {
    if (!ref.current) return;
    const toPoints = (arr: number[][]) => arr.map(([x, e]) => ({ x, y: Math.pow(10, e) }));
    const chart = new Chart(ref.current, {
      type: "line",
      data: {
        datasets: allSeries.map((s, i) => ({
          label: seriesNames[i],
          data: toPoints(s),
          borderColor: seriesColors[i],
          backgroundColor: seriesColors[i],
          borderWidth: 1.2,
          pointRadius: 0,
          tension: 0,
          fill: false,
        })),
      },
      options: {
        animation: false,
        responsive: true,
        maintainAspectRatio: false,
        layout: { padding: { top: 16, right: 12, left: 0, bottom: 0 } },
        plugins: { legend: { display: false }, tooltip: { enabled: false } },
        scales: {
          x: {
            type: "linear",
            min: 0,
            max: 10,
            afterFit: (s: any) => {
              s.height = 60;
              s.paddingLeft = 0;
              s.paddingRight = 0;
            },
            afterBuildTicks: (s: any) => {
              s.ticks = xTickValues.map((v) => ({ value: v }));
            },
            ticks: {
              font: { family: FONT, size: 19 },
              color: "#222",
              padding: 14,
              autoSkip: false,
              maxRotation: 0,
            },
            grid: {
              drawTicks: false,
              color: (c: any) =>
                c.tick && (c.tick.value === 0 || c.tick.value === 10) ? "rgba(0,0,0,0)" : "#808080",
              lineWidth: 0.9,
            },
            border: { display: false, dash: [3, 3] },
            title: {
              display: true,
              text: xTitle,
              font: { family: FONT, size: 22 },
              color: "#222",
              padding: { top: 0, bottom: 2 },
            },
          },
          y: {
            type: "logarithmic",
            min: 1e-9,
            max: 1e12,
            afterFit: (s: any) => {
              s.width = 81;
              s.paddingTop = 0;
              s.paddingBottom = 0;
            },
            afterBuildTicks: (s: any) => {
              s.ticks = yDecadeExponents.map((e) => ({ value: Math.pow(10, e) }));
            },
            ticks: { display: false, autoSkip: false },
            grid: {
              drawTicks: false,
              color: (c: any) => {
                if (!c.tick) return "rgba(0,0,0,0)";
                const e = Math.round(Math.log10(c.tick.value));
                return yMajorExponents.includes(e) && e !== 12 && e !== -9 ? "#808080" : "rgba(0,0,0,0)";
              },
              lineWidth: 0.9,
            },
            border: { display: false, dash: [3, 3] },
            title: {
              display: true,
              text: yTitle,
              font: { family: FONT, size: 22 },
              color: "#222",
              padding: { top: 10, bottom: 0 },
            },
          },
        },
      },
      plugins: [decorPlugin],
    });
    return () => chart.destroy();
  }, []);
  return (
    <div style={{ position: "absolute", left: 0, top: 0, width: 834, height: 620 }}>
      <canvas ref={ref} />
    </div>
  );
}
